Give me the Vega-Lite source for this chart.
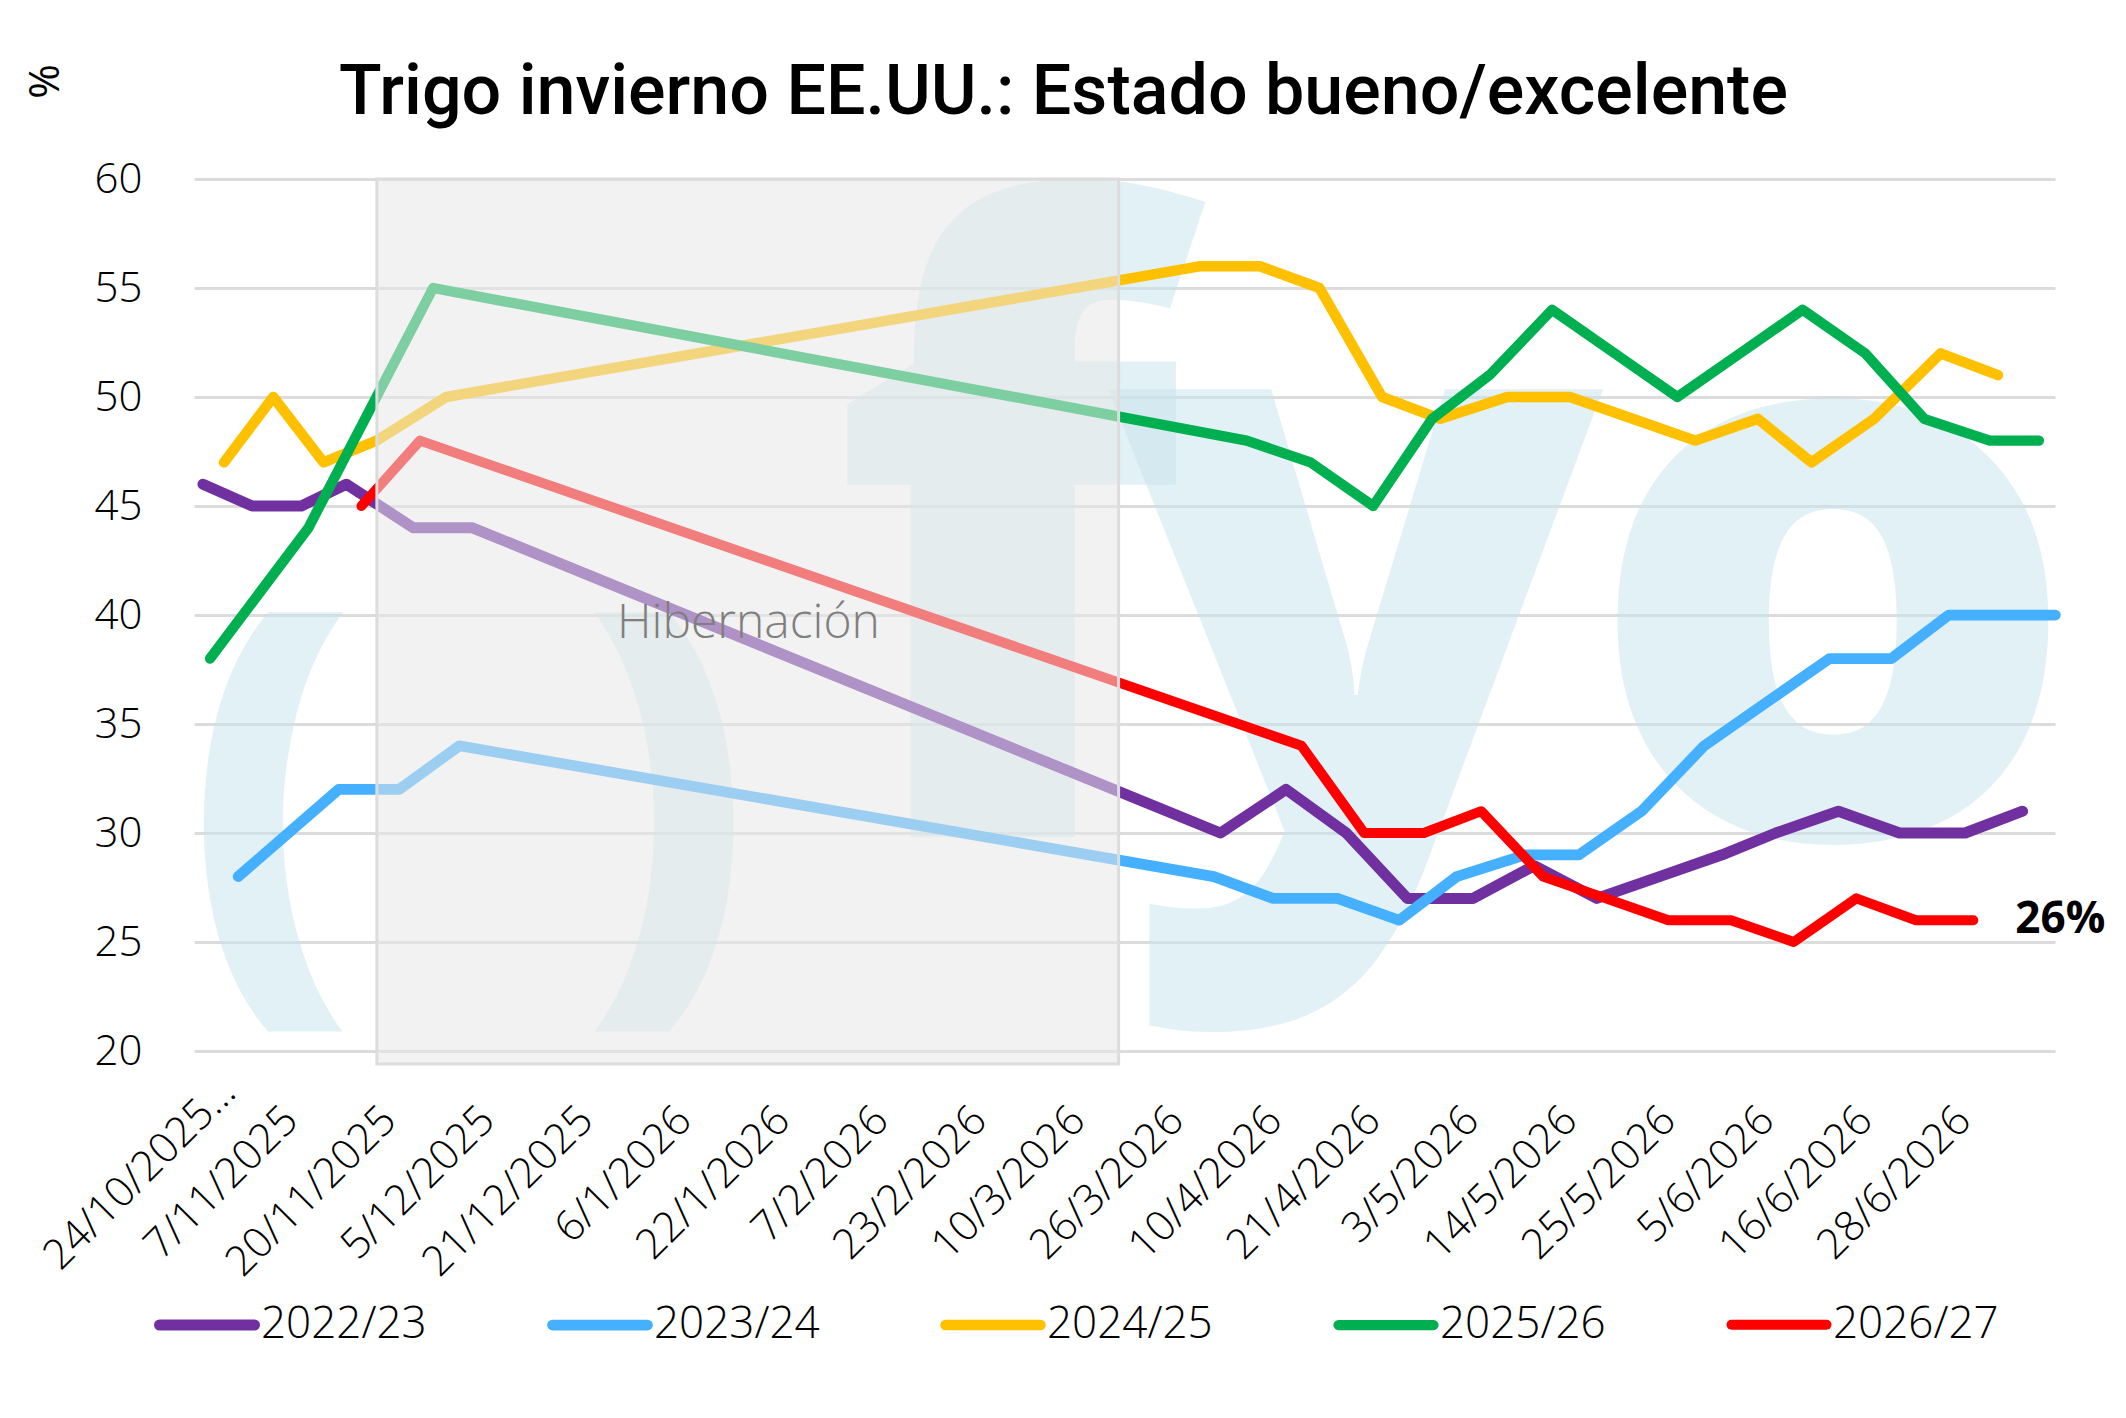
{
  "$schema": "https://vega.github.io/schema/vega-lite/v6.json",
  "width": 1861,
  "height": 872,
  "autosize": {"type": "none"},
  "padding": {"left": 194, "top": 179, "right": 71, "bottom": 367},
  "background": "white",
  "config": {"view": {"stroke": null}, "font": "Open Sans"},
  "title": {
    "text": "Trigo invierno EE.UU.: Estado bueno/excelente",
    "font": "Roboto",
    "fontSize": 70,
    "fontWeight": 500,
    "color": "#000000",
    "anchor": "middle",
    "frame": "group",
    "baseline": "alphabetic",
    "dx": -61,
    "offset": -120
  },
  "datasets": {
    "serie": [
      {"campana": "2022/23", "fecha": "2025-10-23", "valor": 46},
      {"campana": "2022/23", "fecha": "2025-10-30", "valor": 45},
      {"campana": "2022/23", "fecha": "2025-11-06", "valor": 45},
      {"campana": "2022/23", "fecha": "2025-11-12", "valor": 46},
      {"campana": "2022/23", "fecha": "2025-11-21", "valor": 44},
      {"campana": "2022/23", "fecha": "2025-11-30", "valor": 44},
      {"campana": "2022/23", "fecha": "2026-03-30", "valor": 30},
      {"campana": "2022/23", "fecha": "2026-04-09", "valor": 32},
      {"campana": "2022/23", "fecha": "2026-04-16", "valor": 30},
      {"campana": "2022/23", "fecha": "2026-04-23", "valor": 27},
      {"campana": "2022/23", "fecha": "2026-05-01", "valor": 27},
      {"campana": "2022/23", "fecha": "2026-05-08", "valor": 28.5},
      {"campana": "2022/23", "fecha": "2026-05-15", "valor": 27},
      {"campana": "2022/23", "fecha": "2026-05-22", "valor": 28},
      {"campana": "2022/23", "fecha": "2026-05-29", "valor": 29},
      {"campana": "2022/23", "fecha": "2026-06-04", "valor": 30},
      {"campana": "2022/23", "fecha": "2026-06-11", "valor": 31},
      {"campana": "2022/23", "fecha": "2026-06-18", "valor": 30},
      {"campana": "2022/23", "fecha": "2026-06-26", "valor": 30},
      {"campana": "2022/23", "fecha": "2026-07-03", "valor": 31},
      {"campana": "2023/24", "fecha": "2025-10-28", "valor": 28},
      {"campana": "2023/24", "fecha": "2025-11-11", "valor": 32},
      {"campana": "2023/24", "fecha": "2025-11-19", "valor": 32},
      {"campana": "2023/24", "fecha": "2025-11-28", "valor": 34},
      {"campana": "2023/24", "fecha": "2026-03-29", "valor": 28},
      {"campana": "2023/24", "fecha": "2026-04-07", "valor": 27},
      {"campana": "2023/24", "fecha": "2026-04-15", "valor": 27},
      {"campana": "2023/24", "fecha": "2026-04-22", "valor": 26},
      {"campana": "2023/24", "fecha": "2026-04-29", "valor": 28},
      {"campana": "2023/24", "fecha": "2026-05-07", "valor": 29},
      {"campana": "2023/24", "fecha": "2026-05-13", "valor": 29},
      {"campana": "2023/24", "fecha": "2026-05-20", "valor": 31},
      {"campana": "2023/24", "fecha": "2026-05-27", "valor": 34},
      {"campana": "2023/24", "fecha": "2026-06-03", "valor": 36},
      {"campana": "2023/24", "fecha": "2026-06-10", "valor": 38},
      {"campana": "2023/24", "fecha": "2026-06-17", "valor": 38},
      {"campana": "2023/24", "fecha": "2026-06-24", "valor": 40},
      {"campana": "2023/24", "fecha": "2026-07-07", "valor": 40},
      {"campana": "2024/25", "fecha": "2025-10-26", "valor": 47},
      {"campana": "2024/25", "fecha": "2025-11-02", "valor": 50},
      {"campana": "2024/25", "fecha": "2025-11-09", "valor": 47},
      {"campana": "2024/25", "fecha": "2025-11-16", "valor": 48},
      {"campana": "2024/25", "fecha": "2025-11-26", "valor": 50},
      {"campana": "2024/25", "fecha": "2026-03-27", "valor": 56},
      {"campana": "2024/25", "fecha": "2026-04-05", "valor": 56},
      {"campana": "2024/25", "fecha": "2026-04-13", "valor": 55},
      {"campana": "2024/25", "fecha": "2026-04-20", "valor": 50},
      {"campana": "2024/25", "fecha": "2026-04-27", "valor": 49},
      {"campana": "2024/25", "fecha": "2026-05-05", "valor": 50},
      {"campana": "2024/25", "fecha": "2026-05-12", "valor": 50},
      {"campana": "2024/25", "fecha": "2026-05-19", "valor": 49},
      {"campana": "2024/25", "fecha": "2026-05-26", "valor": 48},
      {"campana": "2024/25", "fecha": "2026-06-02", "valor": 49},
      {"campana": "2024/25", "fecha": "2026-06-08", "valor": 47},
      {"campana": "2024/25", "fecha": "2026-06-15", "valor": 49},
      {"campana": "2024/25", "fecha": "2026-06-23", "valor": 52},
      {"campana": "2024/25", "fecha": "2026-06-30", "valor": 51},
      {"campana": "2025/26", "fecha": "2025-10-24", "valor": 38},
      {"campana": "2025/26", "fecha": "2025-11-07", "valor": 44},
      {"campana": "2025/26", "fecha": "2025-11-24", "valor": 55},
      {"campana": "2025/26", "fecha": "2026-04-03", "valor": 48},
      {"campana": "2025/26", "fecha": "2026-04-12", "valor": 47},
      {"campana": "2025/26", "fecha": "2026-04-19", "valor": 45},
      {"campana": "2025/26", "fecha": "2026-04-26", "valor": 49},
      {"campana": "2025/26", "fecha": "2026-05-03", "valor": 51},
      {"campana": "2025/26", "fecha": "2026-05-10", "valor": 54},
      {"campana": "2025/26", "fecha": "2026-05-17", "valor": 52},
      {"campana": "2025/26", "fecha": "2026-05-24", "valor": 50},
      {"campana": "2025/26", "fecha": "2026-05-31", "valor": 52},
      {"campana": "2025/26", "fecha": "2026-06-07", "valor": 54},
      {"campana": "2025/26", "fecha": "2026-06-14", "valor": 52},
      {"campana": "2025/26", "fecha": "2026-06-21", "valor": 49},
      {"campana": "2025/26", "fecha": "2026-06-29", "valor": 48},
      {"campana": "2025/26", "fecha": "2026-07-05", "valor": 48},
      {"campana": "2026/27", "fecha": "2025-11-14", "valor": 45},
      {"campana": "2026/27", "fecha": "2025-11-22", "valor": 48},
      {"campana": "2026/27", "fecha": "2026-04-11", "valor": 34},
      {"campana": "2026/27", "fecha": "2026-04-18", "valor": 30},
      {"campana": "2026/27", "fecha": "2026-04-25", "valor": 30},
      {"campana": "2026/27", "fecha": "2026-05-02", "valor": 31},
      {"campana": "2026/27", "fecha": "2026-05-09", "valor": 28},
      {"campana": "2026/27", "fecha": "2026-05-16", "valor": 27},
      {"campana": "2026/27", "fecha": "2026-05-23", "valor": 26},
      {"campana": "2026/27", "fecha": "2026-05-30", "valor": 26},
      {"campana": "2026/27", "fecha": "2026-06-06", "valor": 25},
      {"campana": "2026/27", "fecha": "2026-06-13", "valor": 27},
      {"campana": "2026/27", "fecha": "2026-06-20", "valor": 26},
      {"campana": "2026/27", "fecha": "2026-06-27", "valor": 26}
    ],
    "marca": [
      {"letra": "(", "t": 1762015680000, "y": 24.3, "tam": 470},
      {"letra": ")", "t": 1767147840000, "y": 24.3, "tam": 470},
      {"letra": "f", "t": 1771921440000, "y": 29.8, "tam": 860},
      {"letra": "y", "t": 1776390912000, "y": 29.8, "tam": 810},
      {"letra": "o", "t": 1781086752000, "y": 29.8, "tam": 780}
    ]
  },
  "layer": [
    {
      "data": {"name": "marca"},
      "mark": {"type": "text", "font": "Open Sans", "fontWeight": 800, "fill": "#c5e3ec", "fillOpacity": 0.5, "align": "center", "baseline": "alphabetic", "clip": true},
      "encoding": {
        "x": {
          "field": "t",
          "type": "quantitative",
          "scale": {
            "nice": false, "zero": false,
            "domain": [1761067353600, 1761264000000, 1762473600000, 1763596800000, 1764892800000, 1766275200000, 1767657600000, 1769040000000, 1770422400000, 1771804800000, 1773100800000, 1774483200000, 1775779200000, 1776729600000, 1777766400000, 1778716800000, 1779667200000, 1780617600000, 1781568000000, 1782604800000, 1783378425600],
            "range": [0, 16, 114.42, 212.84, 311.26, 409.68, 508.1, 606.52, 704.94, 803.36, 901.78, 1000.2, 1098.62, 1197.04, 1295.46, 1393.88, 1492.3, 1590.72, 1689.14, 1787.56, 1861]
          },
          "axis": {
            "title": null,
            "values": [1761264000000, 1762473600000, 1763596800000, 1764892800000, 1766275200000, 1767657600000, 1769040000000, 1770422400000, 1771804800000, 1773100800000, 1774483200000, 1775779200000, 1776729600000, 1777766400000, 1778716800000, 1779667200000, 1780617600000, 1781568000000, 1782604800000],
            "labelExpr": "utcFormat(datum.value, '%-d/%-m/%Y') == '24/10/2025' ? '24/10/2025…' : utcFormat(datum.value, '%-d/%-m/%Y')",
            "labelAngle": -45,
            "labelAlign": "right",
            "labelBaseline": "middle",
            "labelPadding": {"condition": {"test": "datum.value == 1761264000000", "value": 34}, "value": 62},
            "labelOffset": {"condition": {"test": "datum.value == 1761264000000", "value": 18}, "value": -18},
            "labelFontSize": 42,
            "labelFontWeight": 300,
            "labelFont": "Open Sans",
            "labelColor": "#000000",
            "labelLimit": 500,
            "labelOverlap": false,
            "labelBound": false,
            "labelFlush": false,
            "domain": false,
            "ticks": false,
            "grid": false
          }
        },
        "y": {
          "field": "y",
          "type": "quantitative",
          "scale": {"domain": [20, 60], "nice": false, "zero": false},
          "axis": {
            "values": [20, 25, 30, 35, 40, 45, 50, 55, 60],
            "grid": true,
            "gridColor": "#dcdcdc",
            "gridWidth": 3,
            "domain": false,
            "ticks": false,
            "labelFontSize": 42,
            "labelFontWeight": 300,
            "labelFont": "Open Sans",
            "labelColor": "#000000",
            "labelPadding": 52,
            "title": "%",
            "titleFont": "Open Sans",
            "titleFontSize": 42,
            "titleFontWeight": "normal",
            "titleColor": "#000000",
            "titleAngle": -90,
            "titleAlign": "center",
            "titleBaseline": "middle",
            "titleX": -149,
            "titleY": -98
          }
        },
        "text": {"field": "letra"},
        "size": {"field": "tam", "type": "quantitative", "scale": null}
      }
    },
    {
      "data": {"name": "serie"},
      "transform": [{"calculate": "time(datum.fecha)", "as": "t"}],
      "mark": {"type": "line", "strokeCap": "round", "strokeJoin": "round"},
      "encoding": {
        "x": {
          "field": "t",
          "type": "quantitative",
          "scale": {
            "nice": false, "zero": false,
            "domain": [1761067353600, 1761264000000, 1762473600000, 1763596800000, 1764892800000, 1766275200000, 1767657600000, 1769040000000, 1770422400000, 1771804800000, 1773100800000, 1774483200000, 1775779200000, 1776729600000, 1777766400000, 1778716800000, 1779667200000, 1780617600000, 1781568000000, 1782604800000, 1783378425600],
            "range": [0, 16, 114.42, 212.84, 311.26, 409.68, 508.1, 606.52, 704.94, 803.36, 901.78, 1000.2, 1098.62, 1197.04, 1295.46, 1393.88, 1492.3, 1590.72, 1689.14, 1787.56, 1861]
          }
        },
        "y": {"field": "valor", "type": "quantitative", "scale": {"domain": [20, 60], "nice": false, "zero": false}},
        "color": {
          "field": "campana",
          "type": "nominal",
          "scale": {
            "domain": ["2022/23", "2023/24", "2024/25", "2025/26", "2026/27"],
            "range": ["#7030a0", "#45b0ff", "#ffc000", "#00b050", "#ff0000"]
          },
          "legend": {
            "title": null,
            "orient": "none",
            "legendX": -40,
            "legendY": 1093,
            "direction": "horizontal",
            "columns": 5,
            "columnPadding": 104,
            "gridAlign": "all",
            "padding": 0,
            "symbolType": "stroke",
            "symbolSize": 9025,
            "labelFontSize": 44,
            "labelFontWeight": 300,
            "labelFont": "Open Sans",
            "labelColor": "#000000",
            "labelOffset": 1,
            "labelLimit": 400,
            "encode": {"symbols": {"update": {"strokeCap": {"value": "round"}}}}
          }
        },
        "strokeWidth": {
          "field": "campana",
          "type": "nominal",
          "scale": {
            "domain": ["2022/23", "2023/24", "2024/25", "2025/26", "2026/27"],
            "range": [11, 10, 5, 12.5, 11]
          }
        }
      }
    },
    {
      "data": {"values": [{}]},
      "mark": {"type": "rect", "fill": "#e7e7e7", "fillOpacity": 0.54, "stroke": "#dcdcdc", "strokeWidth": 3},
      "encoding": {
        "x": {
          "datum": 1763254800000,
          "type": "quantitative",
          "scale": {
            "nice": false, "zero": false,
            "domain": [1761067353600, 1761264000000, 1762473600000, 1763596800000, 1764892800000, 1766275200000, 1767657600000, 1769040000000, 1770422400000, 1771804800000, 1773100800000, 1774483200000, 1775779200000, 1776729600000, 1777766400000, 1778716800000, 1779667200000, 1780617600000, 1781568000000, 1782604800000, 1783378425600],
            "range": [0, 16, 114.42, 212.84, 311.26, 409.68, 508.1, 606.52, 704.94, 803.36, 901.78, 1000.2, 1098.62, 1197.04, 1295.46, 1393.88, 1492.3, 1590.72, 1689.14, 1787.56, 1861]
          }
        },
        "x2": {"datum": 1773421200000},
        "y": {"datum": 60, "type": "quantitative", "scale": {"domain": [20, 60], "nice": false, "zero": false}},
        "y2": {"datum": 19.4}
      }
    },
    {
      "data": {"values": [{}]},
      "mark": {"type": "text", "text": "Hibernación", "font": "Open Sans", "fontSize": 48, "fontWeight": 300, "color": "#7f7f7f", "align": "center", "baseline": "middle"},
      "encoding": {
        "x": {
          "datum": 1768309200000,
          "type": "quantitative",
          "scale": {
            "nice": false, "zero": false,
            "domain": [1761067353600, 1761264000000, 1762473600000, 1763596800000, 1764892800000, 1766275200000, 1767657600000, 1769040000000, 1770422400000, 1771804800000, 1773100800000, 1774483200000, 1775779200000, 1776729600000, 1777766400000, 1778716800000, 1779667200000, 1780617600000, 1781568000000, 1782604800000, 1783378425600],
            "range": [0, 16, 114.42, 212.84, 311.26, 409.68, 508.1, 606.52, 704.94, 803.36, 901.78, 1000.2, 1098.62, 1197.04, 1295.46, 1393.88, 1492.3, 1590.72, 1689.14, 1787.56, 1861]
          }
        },
        "y": {"datum": 39.6, "type": "quantitative", "scale": {"domain": [20, 60], "nice": false, "zero": false}}
      }
    },
    {
      "data": {"name": "serie"},
      "transform": [
        {"calculate": "time(datum.fecha)", "as": "t"},
        {"filter": "datum.campana == '2026/27' && datum.t == time('2026-06-27')"},
        {"calculate": "datum.valor + '%'", "as": "etiqueta"}
      ],
      "mark": {"type": "text", "font": "Open Sans", "fontSize": 44, "fontWeight": "bold", "color": "#000000", "align": "left", "baseline": "middle", "dx": 42},
      "encoding": {
        "x": {
          "field": "t",
          "type": "quantitative",
          "scale": {
            "nice": false, "zero": false,
            "domain": [1761067353600, 1761264000000, 1762473600000, 1763596800000, 1764892800000, 1766275200000, 1767657600000, 1769040000000, 1770422400000, 1771804800000, 1773100800000, 1774483200000, 1775779200000, 1776729600000, 1777766400000, 1778716800000, 1779667200000, 1780617600000, 1781568000000, 1782604800000, 1783378425600],
            "range": [0, 16, 114.42, 212.84, 311.26, 409.68, 508.1, 606.52, 704.94, 803.36, 901.78, 1000.2, 1098.62, 1197.04, 1295.46, 1393.88, 1492.3, 1590.72, 1689.14, 1787.56, 1861]
          }
        },
        "y": {"field": "valor", "type": "quantitative", "scale": {"domain": [20, 60], "nice": false, "zero": false}},
        "text": {"field": "etiqueta"}
      }
    }
  ]
}
